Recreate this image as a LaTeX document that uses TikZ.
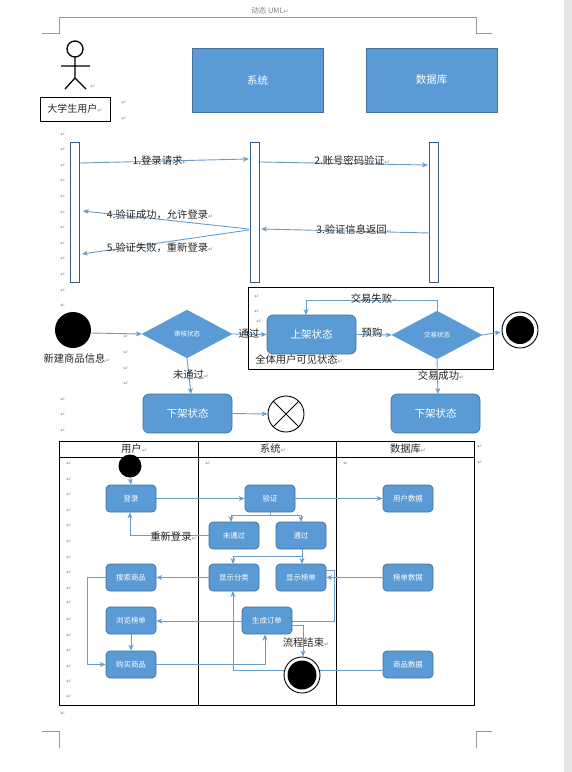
\documentclass[tikz,border=0pt]{standalone}
\usepackage{fontspec}
\setmainfont{Noto Sans CJK SC}
\newfontfamily\djv{DejaVu Sans}
\usetikzlibrary{shapes.geometric,shapes.misc,arrows.meta,calc}
\definecolor{fillblue}{HTML}{5B9BD5}
\definecolor{edgeblue}{HTML}{41719C}
\definecolor{linkblue}{HTML}{6A9CC8}
\definecolor{txt}{HTML}{262626}
\definecolor{markgray}{HTML}{8C8C8C}
\newcommand{\rmk}{{\djv\fontsize{6}{6}\selectfont\textcolor{markgray}{↵}}}
\tikzset{
  x=1pt,y=-1pt,
  link/.style={draw=linkblue,line width=0.9pt,-{Stealth[length=6pt,width=5pt,fill=linkblue]}},
  plainlink/.style={draw=linkblue,line width=0.9pt},
  bigbox/.style={draw=edgeblue,fill=fillblue,line width=0.7pt,minimum width=131pt,minimum height=64pt,text=white,font=\fontsize{10.5}{12}\selectfont,inner sep=0pt},
  lifeline/.style={draw=edgeblue!80!black,fill=white,line width=0.7pt,minimum width=9.5pt,minimum height=140pt,inner sep=0pt},
  state/.style={draw=edgeblue,fill=fillblue,rounded corners=6pt,line width=0.7pt,minimum width=89pt,minimum height=39pt,text=white,font=\fontsize{10.5}{12}\selectfont,inner sep=0pt},
  act/.style={draw=edgeblue,fill=fillblue,rounded corners=4pt,line width=0.7pt,minimum width=50pt,minimum height=27pt,text=white,font=\fontsize{7.4}{9}\selectfont,inner sep=0pt},
  decide/.style={diamond,aspect=1.875,draw=fillblue,fill=fillblue,minimum width=90pt,minimum height=48pt,text=white,font=\fontsize{6.5}{8}\selectfont,inner sep=0pt},
  lbl/.style={text=txt,font=\fontsize{10.3}{12}\selectfont,inner sep=0pt},
  dot/.style={circle,fill=black,inner sep=0pt},
  ring/.style={circle,draw=black,fill=white,line width=0.9pt,minimum size=36pt,inner sep=0pt},
  cropline/.style={draw=gray!80,line width=0.6pt},
  mk/.style={inner sep=0pt}
}
\begin{document}
\begin{tikzpicture}
\useasboundingbox (0,0) rectangle (572,772);
\fill[white] (0,0) rectangle (572,772);
\fill[gray!20] (564,0) rectangle (572,772);
% page corners
\draw[cropline] (42,33) -- (59,33) -- (59,17) -- (476,17) -- (476,33) -- (492,33);
\draw[cropline] (42,731) -- (59,731) -- (59,748);
\draw[cropline] (492,731) -- (476,731) -- (476,748);
\node[inner sep=0pt,text=gray,font=\fontsize{7.5}{9}\selectfont] (hdr) at (270,11) {动态 UML\rmk};
% return marks
\foreach \xx/\yy [count=\i] in {93/87,124/103,124/119,
 63/135,63/150,63/166,63/181,63/197,63/213,63/228,63/244,63/259,63/275,63/291,63/306,
 126/337,126/353,126/369,126/384,63/400,63/415,63/431,257/297,257/312,259/322,
 69/464,69/480,69/495,69/511,69/526,69/542,69/558,69/573,69/589,69/603,69/620,69/636,69/651,69/667,69/682,69/697,63/714,
 208/464,346/464,480/447,480/463}
  \node[mk] (rm\i) at (\xx,\yy) {\rmk};
% actor
\draw[line width=1.3pt] (75,49) circle (8);
\draw[line width=1.3pt] (75,57) -- (75,78) (61,66) -- (90,66) (65,89) -- (75,78) -- (86,89);
\node[draw=black,line width=0.9pt,minimum width=70pt,minimum height=24pt,inner sep=0pt,text=txt,font=\fontsize{10}{12}\selectfont] (user) at (75,109) {大学生用户\rmk};
\node[bigbox] (sys) at (257.5,80) {系统};
\node[bigbox] (db) at (431.5,80) {数据库};
% lifelines
\node[lifeline] (l1) at (74.75,212) {};
\node[lifeline] (l2) at (255,212) {};
\node[lifeline] (l3) at (434,212) {};
\draw[link] ([yshift=49pt]l1.east) -- ([xshift=-1pt,yshift=53pt]l2.west);
\draw[link] ([yshift=50pt]l2.east) -- ([xshift=-1pt,yshift=47pt]l3.west);
\draw[link] ([xshift=1pt,yshift=-21pt]l3.west) -- ([xshift=1pt,yshift=-17pt]l2.east);
\draw[link] ([xshift=-1pt,yshift=-17pt]l2.west) -- ([xshift=3pt,yshift=1pt]l1.east);
\draw[link] ([xshift=-1pt,yshift=-18pt]l2.west) -- ([xshift=2pt,yshift=-42pt]l1.east);
\node[lbl] (m1) at (160,161) {1.登录请求\rmk};
\node[lbl] (m2) at (352,161) {2.账号密码验证\rmk};
\node[lbl] (m3) at (354,230) {3.验证信息返回\rmk};
\node[lbl] (m4) at (160,215) {4.验证成功，允许登录\rmk};
\node[lbl] (m5) at (160,248) {5.验证失败，重新登录\rmk};
% state chart
\node[draw=black,line width=0.9pt,minimum width=245pt,minimum height=82pt,inner sep=0pt] (frame) at (370.5,328) {};
\node[dot,minimum size=36pt] (st) at (73,330) {};
\node[decide] (d1) at (187,334) {审核状态};
\node[state] (up) at (311.5,334.5) {上架状态};
\node[decide] (d2) at (437,335) {交易状态};
\node[ring] (en) at (520,330) {};
\node[dot,minimum size=28pt] (eni) at (520,330) {};
\node[state] (dn1) at (187.5,413.5) {下架状态};
\node[state] (dn2) at (435.5,413.5) {下架状态};
\node[ring] (xc) at (286,414) {};
\draw[line width=0.8pt] (xc.north west) -- (xc.south east) (xc.north east) -- (xc.south west);
\draw[link] ([yshift=-3pt]st.east) -- (d1.west);
\draw[link] (d1.east) -- (up.west);
\draw[link] (up.east) -- (d2.west);
\draw[link] (d2.east) -- ([xshift=-1pt,yshift=-2pt]en.west);
\draw[link] (d2.north) -- (437,300) -- (306,300) -- (306,315);
\draw[link] (d2.south) -- (438,394);
\draw[link] (d1.south) -- (191,394);
\draw[link] (dn1.east) -- (xc.west);
\node[lbl] (t1) at (77,359) {新建商品信息\rmk};
\node[lbl] (t2) at (249,334) {通过};
\node[lbl] (t3) at (191,375) {未通过\rmk};
\node[lbl] (t4) at (374,299) {交易失败\rmk};
\node[lbl] (t5) at (372,333) {预购};
\node[lbl] (t6) at (299,360) {全体用户可见状态\rmk};
\node[lbl] (t7) at (441,376) {交易成功\rmk};
% swimlanes
\draw[line width=0.9pt] (59,441) rectangle (474,705);
\draw[line width=0.9pt] (59,457) -- (474,457) (198,441) -- (198,705) (336,441) -- (336,705);
\node[lbl] (h1) at (134,449) {用户\rmk};
\node[lbl] (h2) at (273,449) {系统\rmk};
\node[lbl] (h3) at (408,449) {数据库\rmk};
\node[dot,minimum size=23pt] (s0) at (130,466) {};
\node[act] (a1) at (131,498.5) {登录};
\node[act] (a2) at (270,498.5) {验证};
\node[act] (a3) at (408,498.5) {用户数据};
\node[act] (a4) at (234,535.5) {未通过};
\node[act] (a5) at (301,535.5) {通过};
\node[act] (a6) at (131,577.5) {搜索商品};
\node[act] (a7) at (234,577.5) {显示分类};
\node[act] (a8) at (301,577.5) {显示榜单};
\node[act] (a9) at (408,577.5) {榜单数据};
\node[act] (a10) at (131,620.5) {浏览榜单};
\node[act] (a12) at (131,664.5) {购买商品};
\node[act] (a13) at (408,664.5) {商品数据};
% connectors under the boxes they pass
\draw[link] (a8.east |- 0,570) -- (334,570) -- (334,621) -- (a10.east |- 0,621);
\draw[link] (a13.west |- 0,670) -- (233,670) -- (233,591);
\node[act] (a11) at (267,620.5) {生成订单};
\node[ring,minimum size=36pt] (e2) at (302,675) {};
\node[dot,minimum size=29pt] (e2i) at (302,675) {};
\draw[link] (s0.south) -- (a1.north);
\draw[link] (a1.east) -- (a2.west);
\draw[link] (a2.east) -- (a3.west);
\coordinate (fork) at (270,515);
\draw[plainlink] (a2.south) -- (fork);
\draw[link] (fork) -- (231,515) -- (231,522);
\draw[link] (fork) -- (301,515) -- (301,522);
\draw[link] (a4.west) -- (130,535.5) -- (a1.south -| 130,0);
\draw[link] (302,549) -- (302,564);
\draw[link] (302,556) -- (233,556) -- (233,564);
\draw[link] (a7.west) -- (a6.east);
\draw[link] (a6.west) -- (87,577.5) -- (87,664.5) -- (a12.west);
\draw[link] (a9.west) -- (a8.east);
\draw[link] (a10.south) -- (a12.north);
\draw[link] (a12.east) -- (265,664.5) -- (265,634.5);
\draw[link] (a11.east |- 0,625) -- (303,625) -- (e2.north -| 303,0);
\node[lbl] (t8) at (173.5,537) {重新登录\rmk};
\node[lbl] (t9) at (306,643) {流程结束\rmk};
\end{tikzpicture}
\end{document}
